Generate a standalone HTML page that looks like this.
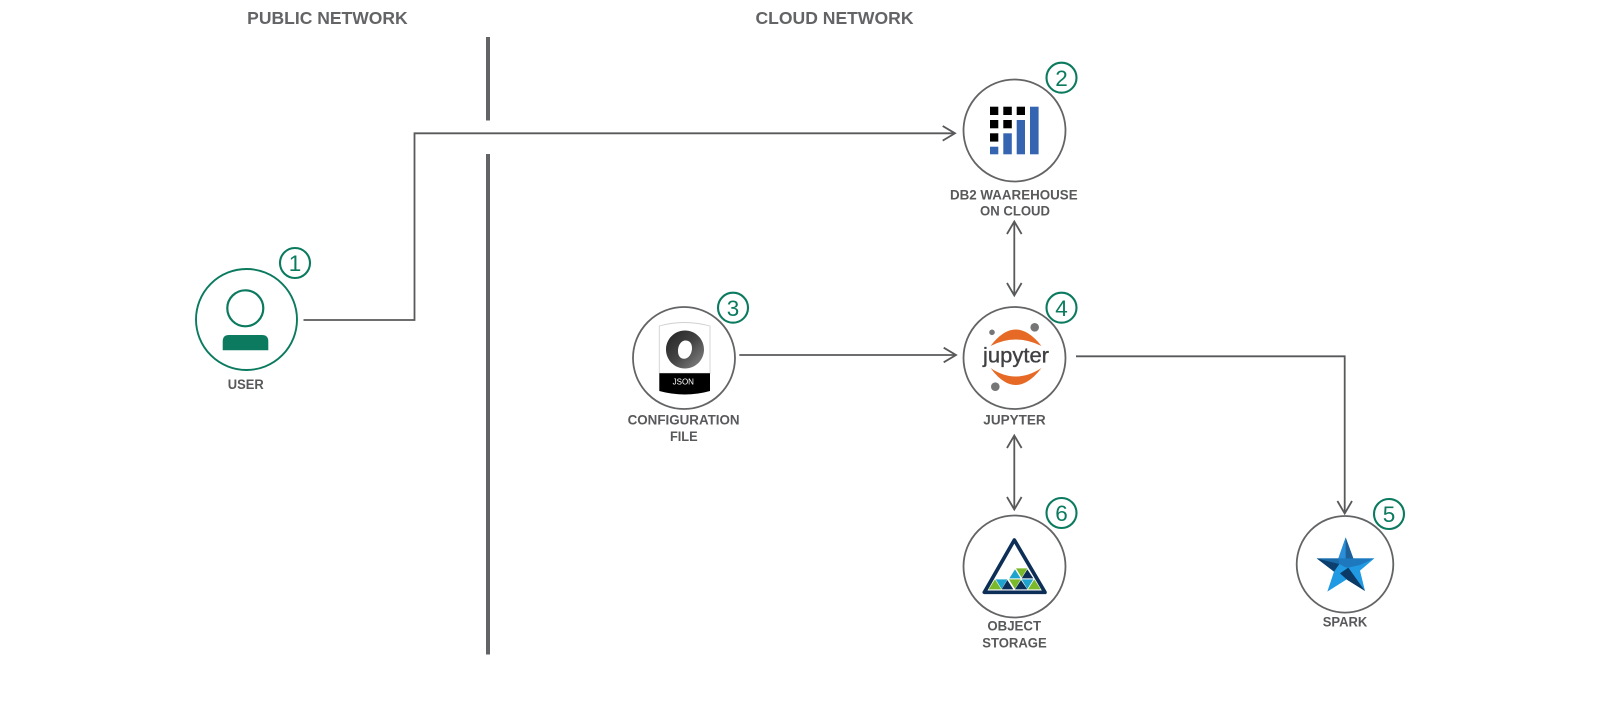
<!DOCTYPE html>
<html>
<head>
<meta charset="utf-8">
<style>
html,body{margin:0;padding:0;background:#fff;width:1601px;height:701px;overflow:hidden}
svg{display:block}
text{font-family:"Liberation Sans",sans-serif}
.h{font-size:17.5px;font-weight:bold;fill:#636466}
.l{font-size:13.5px;font-weight:bold;fill:#58595b;text-anchor:middle}
.n{font-size:22.5px;fill:#0b7a5f;text-anchor:middle}
.c{fill:#fff;stroke:#636466;stroke-width:1.8}
.b{fill:#fff;stroke:#0b7a5f;stroke-width:2.1}
.w{fill:none;stroke:#58595b;stroke-width:1.8}
</style>
</head>
<body>
<svg width="1601" height="701" viewBox="0 0 1601 701" xmlns="http://www.w3.org/2000/svg">
<defs>
<linearGradient id="ring" x1="0" y1="0" x2="1" y2="1">
<stop offset="0" stop-color="#222"/>
<stop offset=".5" stop-color="#444"/>
<stop offset="1" stop-color="#8a8a8a"/>
</linearGradient>
</defs>
<text class="h" x="247.2" y="24" textLength="160.5" lengthAdjust="spacingAndGlyphs">PUBLIC NETWORK</text>
<text class="h" x="755.5" y="24" textLength="158" lengthAdjust="spacingAndGlyphs">CLOUD NETWORK</text>

<rect x="486" y="37" width="4" height="83.5" fill="#636466"/>
<rect x="486" y="154" width="4" height="500.5" fill="#636466"/>

<!-- connectors -->
<path class="w" d="M303.5 320H414.5V133.3H954"/>
<path class="w" d="M942.7 126L955 133.3L942.7 140.6"/>
<path class="w" d="M1014.3 222V295"/>
<path class="w" d="M1007 234L1014.3 221.5L1021.6 234M1007 283L1014.3 295.5L1021.6 283"/>
<path class="w" d="M739.3 355H955"/>
<path class="w" d="M943.7 347.7L956 355L943.7 362.3"/>
<path class="w" d="M1076 356.3H1344.7V513"/>
<path class="w" d="M1337.4 501L1344.7 513.5L1352 501"/>
<path class="w" d="M1014.3 436V509"/>
<path class="w" d="M1007 448L1014.3 435.5L1021.6 448M1007 497L1014.3 509.5L1021.6 497"/>

<!-- user -->
<circle cx="246.5" cy="319.5" r="50.5" fill="#fff" stroke="#0b7a5f" stroke-width="1.9"/>
<circle cx="245.3" cy="308.3" r="18" fill="none" stroke="#0b7a5f" stroke-width="2.2"/>
<path d="M222.7 350.3V341.5Q222.7 335 229 335H262Q268.3 335 268.3 341.5V350.3Z" fill="#0b7a5f"/>
<circle class="b" cx="295" cy="263" r="15"/>
<text class="n" x="295" y="271">1</text>
<text class="l" x="245.8" y="389" textLength="36" lengthAdjust="spacingAndGlyphs">USER</text>

<!-- db2 -->
<circle class="c" cx="1014.5" cy="130.5" r="51"/>
<g fill="#000">
<rect x="990" y="106.7" width="8.3" height="8.3"/><rect x="1003.3" y="106.7" width="8.5" height="8.3"/><rect x="1016.7" y="106.7" width="8.3" height="8.3"/>
<rect x="990" y="120" width="8.3" height="8.3"/><rect x="1003.3" y="120" width="8.5" height="8.3"/>
<rect x="990" y="133.3" width="8.3" height="8.3"/>
</g>
<g fill="#3565b0">
<rect x="990" y="146.7" width="8.3" height="7.6"/>
<rect x="1003.3" y="133.3" width="8.5" height="21"/>
<rect x="1016.7" y="120" width="8.3" height="34.3"/>
<rect x="1030" y="106.7" width="8.6" height="47.6"/>
</g>
<circle class="b" cx="1061.5" cy="77.7" r="15"/>
<text class="n" x="1061.5" y="86">2</text>
<text class="l" x="1013.8" y="199.3" textLength="127.7" lengthAdjust="spacingAndGlyphs">DB2 WAAREHOUSE</text>
<text class="l" x="1015" y="215.5" textLength="70" lengthAdjust="spacingAndGlyphs">ON CLOUD</text>

<!-- json -->
<circle class="c" cx="684" cy="358" r="51"/>
<path d="M659.3 326Q684 319 710 326V373.3H659.3Z" fill="#fff" stroke="#d0d0d0" stroke-width=".9"/>
<path d="M659.3 373.3H710V391Q685 398 659.3 391Z" fill="#000"/>
<path fill-rule="evenodd" d="M685 330.5C695.5 330.5 704 339 704 349.5C704 360 695.5 368.5 685 368.5C674.5 368.5 666 360 666 349.5C666 339 674.5 330.5 685 330.5ZM685.5 340.5C681 340.5 678 345.5 678 351C678 356 680.5 358.8 684 358.8C688.8 358.8 692 353.5 692 348C692 343.3 689.5 340.5 685.5 340.5Z" fill="url(#ring)"/>
<text x="683.3" y="384.5" font-size="8" fill="#fff" text-anchor="middle">JSON</text>
<circle class="b" cx="733" cy="307.7" r="15"/>
<text class="n" x="733" y="316">3</text>
<text class="l" x="683.6" y="424.3" textLength="112" lengthAdjust="spacingAndGlyphs">CONFIGURATION</text>
<text class="l" x="683.8" y="441" textLength="27.7" lengthAdjust="spacingAndGlyphs">FILE</text>

<!-- jupyter -->
<circle class="c" cx="1014.5" cy="358" r="51"/>
<path d="M990.5 346Q1015.5 313 1041.5 346Q1015.5 333 990.5 346Z" fill="#e66a25"/>
<path d="M990.5 368Q1015.5 402 1041.5 368Q1015.5 385 990.5 368Z" fill="#e66a25"/>
<circle cx="992" cy="332.3" r="2.8" fill="#767677"/>
<circle cx="1034.7" cy="327.3" r="4.3" fill="#767677"/>
<circle cx="995.3" cy="386.7" r="4.3" fill="#767677"/>
<text x="1016" y="362.3" font-size="21" fill="#3f4042" stroke="#3f4042" stroke-width=".35" text-anchor="middle" textLength="66" lengthAdjust="spacingAndGlyphs">jupyter</text>
<circle class="b" cx="1061.5" cy="307.7" r="15"/>
<text class="n" x="1061.5" y="316">4</text>
<text class="l" x="1014.5" y="424.3" textLength="62.4" lengthAdjust="spacingAndGlyphs">JUPYTER</text>

<!-- object storage -->
<circle class="c" cx="1014.5" cy="566.5" r="51"/>
<g transform="translate(930 490) scale(.33333)">
<path d="M253 150L163 307H345Z" fill="#fff" stroke="#0d2f57" stroke-width="11" stroke-linejoin="round"/>
<g fill="#7ab929">
<path d="M258 235H292L275 263Z"/><path d="M195 268L176 298H214Z"/><path d="M237 268H272L255 297Z"/><path d="M313 268L294 298H332Z"/>
</g>
<g fill="#1ea3cf">
<path d="M255 238L238 265H272Z"/><path d="M197 268H232L215 297Z"/><path d="M275 268H310L292 297Z"/>
</g>
<g fill="#0d2f57">
<path d="M292 238L275 265H310Z"/><path d="M232 270L215 298H250Z"/><path d="M273 270L255 298H292Z"/>
</g>
</g>
<circle class="b" cx="1061.5" cy="513" r="15"/>
<text class="n" x="1061.5" y="521">6</text>
<text class="l" x="1014.2" y="630.7" textLength="53.7" lengthAdjust="spacingAndGlyphs">OBJECT</text>
<text class="l" x="1014.5" y="647.3" textLength="64.4" lengthAdjust="spacingAndGlyphs">STORAGE</text>

<!-- spark -->
<circle class="c" cx="1345" cy="564.3" r="48.3"/>
<g transform="translate(1310 530) scale(.33333)">
<path d="M107 22L130 85H193L150 122L165 183L110 148L52 185L72 125L20 85H85Z" fill="#1f9ae3"/>
<path d="M107 22L85 85L107 100Z" fill="#2a8fd8"/>
<path d="M107 22L130 85L107 112Z" fill="#1d5f96"/>
<path d="M20 85H85L107 100L88 102Z" fill="#1a6aa8"/>
<path d="M85 85H193L150 105L115 113L107 112L88 102Z" fill="#1d78bd"/>
<path d="M20 85L72 125L88 102Z" fill="#0d3f6e"/>
<path d="M90 130L115 113L165 183L112 150Z" fill="#0c3a66"/>
</g>
<circle class="b" cx="1389" cy="514" r="15"/>
<text class="n" x="1389" y="522">5</text>
<text class="l" x="1345" y="626.7" textLength="44.6" lengthAdjust="spacingAndGlyphs">SPARK</text>
</svg>
</body>
</html>
